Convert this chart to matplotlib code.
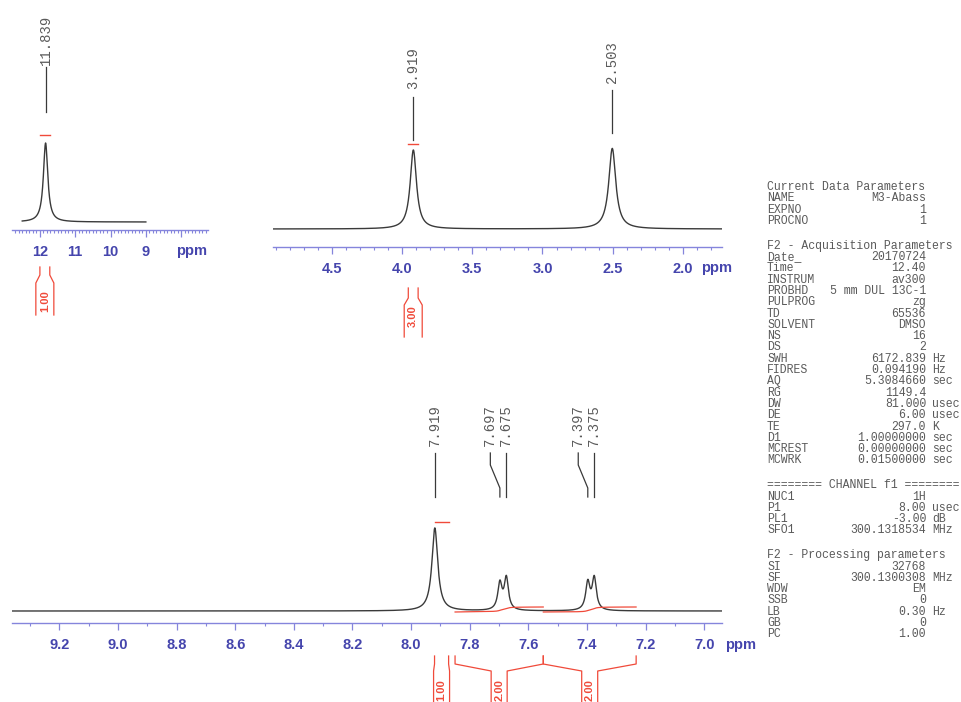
import numpy as np
import matplotlib
matplotlib.use("Agg")
import matplotlib.pyplot as plt
from matplotlib.transforms import blended_transform_factory
from matplotlib.ticker import MultipleLocator, FixedLocator, FixedFormatter

W, H, DPI = 961, 702, 100

# ------------------------------------------------------------------ data
# Panel A: 12.5 - 9 ppm
a_peak_ppm = [11.839]
a_peak_height = [100.0]
a_peak_hwhm = [0.075]
a_span = [12.5, 9.0]
a_labels = ["11.839"]
a_int_regions = [[12.00, 11.72]]
a_int_values = ["1.00"]
a_ticks = [12, 11, 10, 9, 8]
a_ticklabels = ["12", "11", "10", "9", ""]

# Panel B: 4.9 - 1.7 ppm
b_peak_ppm = [3.919, 2.503]
b_peak_height = [100.0, 102.0]
b_peak_hwhm = [0.027, 0.030]
b_span = [4.918, 1.722]
b_labels = ["3.919", "2.503"]
b_int_regions = [[3.955, 3.885]]
b_int_values = ["3.00"]
b_ticks = [4.5, 4.0, 3.5, 3.0, 2.5, 2.0]
b_ticklabels = ["4.5", "4.0", "3.5", "3.0", "2.5", "2.0"]

# Panel C: 9.36 - 6.94 ppm
c_peak_ppm = [7.919, 7.697, 7.675, 7.397, 7.375]
c_peak_height = [100.0, 32.0, 38.5, 33.0, 38.5]
c_peak_hwhm = [0.012, 0.0085, 0.0085, 0.0085, 0.0085]
c_span = [9.362, 6.939]
c_labels = ["7.919", "7.697", "7.675", "7.397", "7.375"]
c_int_regions = [[7.920, 7.872], [7.850, 7.549], [7.549, 7.232]]
c_int_values = ["1.00", "2.00", "2.00"]
c_ticks = [9.2, 9.0, 8.8, 8.6, 8.4, 8.2, 8.0, 7.8, 7.6, 7.4, 7.2, 7.0]
c_ticklabels = ["9.2", "9.0", "8.8", "8.6", "8.4", "8.2", "8.0", "7.8", "7.6", "7.4", "7.2", "7.0"]

# Acquisition / processing parameters (key, value, unit); None = blank line
param_keys = ["Current Data Parameters", "NAME", "EXPNO", "PROCNO", None,
              "F2 - Acquisition Parameters", "Date_", "Time", "INSTRUM", "PROBHD",
              "PULPROG", "TD", "SOLVENT", "NS", "DS", "SWH", "FIDRES", "AQ", "RG",
              "DW", "DE", "TE", "D1", "MCREST", "MCWRK", None,
              "======== CHANNEL f1 ========", "NUC1", "P1", "PL1", "SFO1", None,
              "F2 - Processing parameters", "SI", "SF", "WDW", "SSB", "LB", "GB", "PC"]
param_values = ["", "M3-Abass", "1", "1", None,
                "", "20170724", "12.40", "av300", "5 mm DUL 13C-1",
                "zg", "65536", "DMSO", "16", "2", "6172.839", "0.094190", "5.3084660", "1149.4",
                "81.000", "6.00", "297.0", "1.00000000", "0.00000000", "0.01500000", None,
                "", "1H", "8.00", "-3.00", "300.1318534", None,
                "", "32768", "300.1300308", "EM", "0", "0.30", "0", "1.00"]
param_units = ["", "", "", "", None,
               "", "", "", "", "",
               "", "", "", "", "", "Hz", "Hz", "sec", "",
               "usec", "usec", "K", "sec", "sec", "sec", None,
               "", "", "usec", "dB", "MHz", None,
               "", "", "MHz", "", "", "Hz", "", ""]

# ------------------------------------------------------------------ style
AXIS_COL = "#8585dc"
TICKLAB_COL = "#4545ad"
RED = "#f04a3a"
SPEC_COL = "#3a3a3a"
TXT_COL = "#5a5a5a"
MONO = "Liberation Mono"
SANS = "Liberation Sans"

fig = plt.figure(figsize=(W / DPI, H / DPI), dpi=DPI)
fig.patch.set_facecolor("white")


def fy(py):
    return 1 - py / H


def spectrum(span, ppm, height, hwhm, n=8000):
    x = np.linspace(span[0], span[1], n)
    y = np.zeros_like(x)
    for p, h, w in zip(ppm, height, hwhm):
        y += h / (1 + ((x - p) / w) ** 2)
    return x, y


def make_panel(left, right, top, spine, xlim, base_px, k, ticks, ticklabels, minor):
    ax = fig.add_axes([left / W, fy(spine), (right - left) / W, (spine - top) / H])
    ax.set_xlim(xlim)
    ax.set_ylim(-(spine - base_px) / k, (base_px - top) / k)
    for s in ["top", "left", "right"]:
        ax.spines[s].set_visible(False)
    ax.spines["bottom"].set_color(AXIS_COL)
    ax.spines["bottom"].set_linewidth(1.0)
    ax.yaxis.set_visible(False)
    ax.patch.set_alpha(0)
    ax.xaxis.set_major_locator(FixedLocator(ticks))
    ax.xaxis.set_major_formatter(FixedFormatter(ticklabels))
    ax.xaxis.set_minor_locator(MultipleLocator(minor))
    ax.tick_params(axis="x", which="major", length=5.2, width=0.9, color=AXIS_COL,
                   pad=5.8, labelcolor=TICKLAB_COL, labelsize=10.5)
    ax.tick_params(axis="x", which="minor", length=2.2, width=0.8, color=AXIS_COL)
    for t in ax.get_xticklabels():
        t.set_fontfamily(SANS)
        t.set_fontweight("bold")
    ax.ppx = (right - left) / (xlim[0] - xlim[1])
    ax.k = k
    ax.base_px = base_px
    ax.tr = blended_transform_factory(ax.transData, fig.transFigure)
    return ax


def ppm_label(ax, x_label, x_peak, text, y_text, y_l0, y_l1, y_l2=None, y_l3=None):
    tr = ax.tr
    ax.text(x_label, fy(y_text), text, transform=tr, rotation=90, ha="center",
            va="bottom", family=MONO, fontsize=10, color=TXT_COL, clip_on=False)
    if y_l2 is None:
        ax.plot([x_label, x_peak], [fy(y_l0), fy(y_l1)], transform=tr,
                color=SPEC_COL, lw=0.9, clip_on=False)
    else:
        ax.plot([x_label, x_label, x_peak, x_peak],
                [fy(y_l0), fy(y_l1), fy(y_l2), fy(y_l3)], transform=tr,
                color=SPEC_COL, lw=0.9, clip_on=False)


def bracket(ax, region, value, y_top, y_h, y_n, y_bot, y_lab, neck=8.0):
    a, b = region
    c = (a + b) / 2
    dn = neck / ax.ppx
    tr = ax.tr
    ax.plot([a, a, c + dn, c + dn], [fy(y_top), fy(y_h), fy(y_n), fy(y_bot)],
            transform=tr, color=RED, lw=0.9, clip_on=False)
    ax.plot([b, b, c - dn, c - dn], [fy(y_top), fy(y_h), fy(y_n), fy(y_bot)],
            transform=tr, color=RED, lw=0.9, clip_on=False)
    ax.text(c, fy(y_lab), value, transform=tr, rotation=90, ha="center", va="center",
            family=SANS, fontweight="bold", fontsize=8, color=RED, clip_on=False)


def ppm_text(ax, px, py):
    fig.text(px / W, fy(py), "ppm", ha="center", va="center", family=SANS,
             fontweight="bold", fontsize=10.5, color=TICKLAB_COL)


# ------------------------------------------------------------------ panel A
axA = make_panel(12, 208, 0, 230, (12.79, 7.24), 222, 0.79, a_ticks, a_ticklabels, 0.1)
xa, ya = spectrum(a_span, a_peak_ppm, a_peak_height, a_peak_hwhm)
axA.plot(xa, ya, color=SPEC_COL, lw=1.0)
ppm_text(axA, 192, 251)
ppm_label(axA, a_peak_ppm[0], a_peak_ppm[0], a_labels[0], 65, 67, 112)
r = a_int_regions[0]
axA.plot(r, [fy(135)] * 2, transform=axA.tr, color=RED, lw=1.0)
bracket(axA, a_int_regions[0], a_int_values[0], 267, 275, 283, 315, 301, neck=9)

# ------------------------------------------------------------------ panel B
axB = make_panel(273, 722, 0, 247, (4.918, 1.722), 229, 0.79, b_ticks, b_ticklabels, 0.1)
xb, yb = spectrum(b_span, b_peak_ppm, b_peak_height, b_peak_hwhm)
axB.plot(xb, yb, color=SPEC_COL, lw=1.0)
ppm_text(axB, 717, 268)
ppm_label(axB, b_peak_ppm[0], b_peak_ppm[0], b_labels[0], 89, 97, 140)
ppm_label(axB, b_peak_ppm[1], b_peak_ppm[1], b_labels[1], 83, 90, 133)
r = b_int_regions[0]
axB.plot(r, [fy(144)] * 2, transform=axB.tr, color=RED, lw=1.0)
bracket(axB, b_int_regions[0], b_int_values[0], 288, 298, 305, 337, 316, neck=9)

# ------------------------------------------------------------------ panel C
axC = make_panel(12, 722, 340, 623, (9.362, 6.939), 611, 0.83, c_ticks, c_ticklabels, 0.1)
xc, yc = spectrum(c_span, c_peak_ppm, c_peak_height, c_peak_hwhm)
axC.plot(xc, yc, color=SPEC_COL, lw=1.0)
ppm_text(axC, 741, 645)

# label positions: spread labels of close peaks leftwards (min 16 px apart)
min_sep = 16.0 / axC.ppx
lab_x = list(c_peak_ppm)
for i in range(len(lab_x) - 2, -1, -1):
    if lab_x[i] - lab_x[i + 1] < min_sep:
        lab_x[i] = lab_x[i + 1] + min_sep
for lx, px, t in zip(lab_x, c_peak_ppm, c_labels):
    if abs(lx - px) < 1e-9:
        ppm_label(axC, lx, px, t, 446, 453, 497)
    else:
        ppm_label(axC, lx, px, t, 446, 453, 465, 488, 497)

# integral dash for the singlet and integral curves for the doublets
r = c_int_regions[0]
axC.plot(r, [fy(522)] * 2, transform=axC.tr, color=RED, lw=1.0)
for reg in c_int_regions[1:]:
    m = (xc <= reg[0]) & (xc >= reg[1])
    xs = xc[m]
    cum = np.cumsum(yc[m])
    cum = cum / cum[-1]
    axC.plot(xs, (-1 + 5 * cum) / axC.k, color=RED, lw=0.9)

for reg, val in zip(c_int_regions, c_int_values):
    bracket(axC, reg, val, 656, 664, 671, 712, 690, neck=8)

# ------------------------------------------------------------------ parameters
y = 187.0
for key, val, unit in zip(param_keys, param_values, param_units):
    if key is None:
        y += 13.5
        continue
    fig.text(767 / W, fy(y), key, ha="left", va="center", family=MONO,
             fontsize=8.3, color=TXT_COL)
    if val:
        fig.text(926 / W, fy(y), val, ha="right", va="center", family=MONO,
                 fontsize=8.3, color=TXT_COL)
    if unit:
        fig.text(932 / W, fy(y), unit, ha="left", va="center", family=MONO,
                 fontsize=8.3, color=TXT_COL)
    y += 11.3

fig.savefig("out.png", dpi=DPI, facecolor="white")
